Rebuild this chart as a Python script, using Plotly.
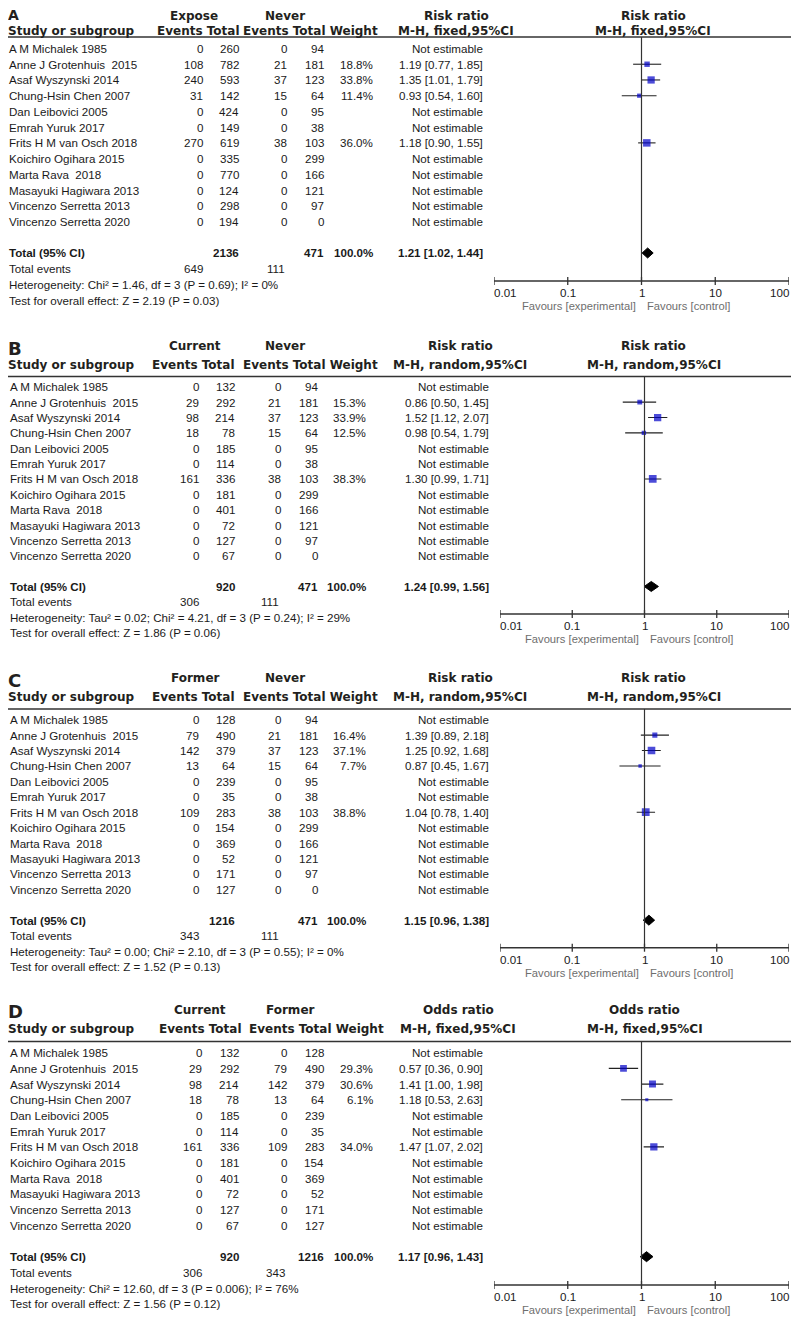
import math
import plotly.graph_objects as go

# ---------------- DATA ----------------
STUDIES = ["A M Michalek 1985", "Anne J Grotenhuis\u00a0 2015", "Asaf Wyszynski 2014",
           "Chung-Hsin Chen 2007", "Dan Leibovici 2005", "Emrah Yuruk 2017",
           "Frits H M van Osch 2018", "Koichiro Ogihara 2015", "Marta Rava\u00a0 2018",
           "Masayuki Hagiwara 2013", "Vincenzo Serretta 2013", "Vincenzo Serretta 2020"]
TICKS = [0.01, 0.1, 1, 10, 100]
TICK_LABELS = ["0.01", "0.1", "1", "10", "100"]
FAVOURS = ["Favours [experimental]", "Favours [control]"]

# Panel A
A_GROUPS = ["Expose", "Never"]
A_MEASURE = ["Risk ratio", "M-H, fixed,95%CI"]
A_EXP_EVENTS = [0, 108, 240, 31, 0, 0, 270, 0, 0, 0, 0, 0]
A_EXP_TOTAL = [260, 782, 593, 142, 424, 149, 619, 335, 770, 124, 298, 194]
A_CTL_EVENTS = [0, 21, 37, 15, 0, 0, 38, 0, 0, 0, 0, 0]
A_CTL_TOTAL = [94, 181, 123, 64, 95, 38, 103, 299, 166, 121, 97, 0]
A_WEIGHT = [None, 18.8, 33.8, 11.4, None, None, 36.0, None, None, None, None, None]
A_EST = [None, 1.19, 1.35, 0.93, None, None, 1.18, None, None, None, None, None]
A_LO = [None, 0.77, 1.01, 0.54, None, None, 0.90, None, None, None, None, None]
A_HI = [None, 1.85, 1.79, 1.60, None, None, 1.55, None, None, None, None, None]
A_TOTALS = [2136, 471]
A_TOTAL_EVENTS = [649, 111]
A_POOLED = [1.21, 1.02, 1.44]
A_HET = "Heterogeneity: Chi² = 1.46, df = 3 (P = 0.69); I² = 0%"
A_TEST = "Test for overall effect: Z = 2.19 (P = 0.03)"

# Panel B
B_GROUPS = ["Current", "Never"]
B_MEASURE = ["Risk ratio", "M-H, random,95%CI"]
B_EXP_EVENTS = [0, 29, 98, 18, 0, 0, 161, 0, 0, 0, 0, 0]
B_EXP_TOTAL = [132, 292, 214, 78, 185, 114, 336, 181, 401, 72, 127, 67]
B_CTL_EVENTS = [0, 21, 37, 15, 0, 0, 38, 0, 0, 0, 0, 0]
B_CTL_TOTAL = [94, 181, 123, 64, 95, 38, 103, 299, 166, 121, 97, 0]
B_WEIGHT = [None, 15.3, 33.9, 12.5, None, None, 38.3, None, None, None, None, None]
B_EST = [None, 0.86, 1.52, 0.98, None, None, 1.30, None, None, None, None, None]
B_LO = [None, 0.50, 1.12, 0.54, None, None, 0.99, None, None, None, None, None]
B_HI = [None, 1.45, 2.07, 1.79, None, None, 1.71, None, None, None, None, None]
B_TOTALS = [920, 471]
B_TOTAL_EVENTS = [306, 111]
B_POOLED = [1.24, 0.99, 1.56]
B_HET = "Heterogeneity: Tau² = 0.02; Chi² = 4.21, df = 3 (P = 0.24); I² = 29%"
B_TEST = "Test for overall effect: Z = 1.86 (P = 0.06)"

# Panel C
C_GROUPS = ["Former", "Never"]
C_MEASURE = ["Risk ratio", "M-H, random,95%CI"]
C_EXP_EVENTS = [0, 79, 142, 13, 0, 0, 109, 0, 0, 0, 0, 0]
C_EXP_TOTAL = [128, 490, 379, 64, 239, 35, 283, 154, 369, 52, 171, 127]
C_CTL_EVENTS = [0, 21, 37, 15, 0, 0, 38, 0, 0, 0, 0, 0]
C_CTL_TOTAL = [94, 181, 123, 64, 95, 38, 103, 299, 166, 121, 97, 0]
C_WEIGHT = [None, 16.4, 37.1, 7.7, None, None, 38.8, None, None, None, None, None]
C_EST = [None, 1.39, 1.25, 0.87, None, None, 1.04, None, None, None, None, None]
C_LO = [None, 0.89, 0.92, 0.45, None, None, 0.78, None, None, None, None, None]
C_HI = [None, 2.18, 1.68, 1.67, None, None, 1.40, None, None, None, None, None]
C_TOTALS = [1216, 471]
C_TOTAL_EVENTS = [343, 111]
C_POOLED = [1.15, 0.96, 1.38]
C_HET = "Heterogeneity: Tau² = 0.00; Chi² = 2.10, df = 3 (P = 0.55); I² = 0%"
C_TEST = "Test for overall effect: Z = 1.52 (P = 0.13)"

# Panel D
D_GROUPS = ["Current", "Former"]
D_MEASURE = ["Odds ratio", "M-H, fixed,95%CI"]
D_EXP_EVENTS = [0, 29, 98, 18, 0, 0, 161, 0, 0, 0, 0, 0]
D_EXP_TOTAL = [132, 292, 214, 78, 185, 114, 336, 181, 401, 72, 127, 67]
D_CTL_EVENTS = [0, 79, 142, 13, 0, 0, 109, 0, 0, 0, 0, 0]
D_CTL_TOTAL = [128, 490, 379, 64, 239, 35, 283, 154, 369, 52, 171, 127]
D_WEIGHT = [None, 29.3, 30.6, 6.1, None, None, 34.0, None, None, None, None, None]
D_EST = [None, 0.57, 1.41, 1.18, None, None, 1.47, None, None, None, None, None]
D_LO = [None, 0.36, 1.00, 0.53, None, None, 1.07, None, None, None, None, None]
D_HI = [None, 0.90, 1.98, 2.63, None, None, 2.02, None, None, None, None, None]
D_TOTALS = [920, 1216]
D_TOTAL_EVENTS = [306, 343]
D_POOLED = [1.17, 0.96, 1.43]
D_HET = "Heterogeneity: Chi² = 12.60, df = 3 (P = 0.006); I² = 76%"
D_TEST = "Test for overall effect: Z = 1.56 (P = 0.12)"


def panel_data(letter, groups, measure, ee, et, ce, ct, w, est, lo, hi, totals, tev, pooled, het, test):
    return dict(letter=letter, groups=groups, measure=measure, ee=ee, et=et, ce=ce, ct=ct,
                w=w, est=est, lo=lo, hi=hi, totals=totals, tev=tev, pooled=pooled, het=het, test=test)


DATA = [
    panel_data("A", A_GROUPS, A_MEASURE, A_EXP_EVENTS, A_EXP_TOTAL, A_CTL_EVENTS, A_CTL_TOTAL,
               A_WEIGHT, A_EST, A_LO, A_HI, A_TOTALS, A_TOTAL_EVENTS, A_POOLED, A_HET, A_TEST),
    panel_data("B", B_GROUPS, B_MEASURE, B_EXP_EVENTS, B_EXP_TOTAL, B_CTL_EVENTS, B_CTL_TOTAL,
               B_WEIGHT, B_EST, B_LO, B_HI, B_TOTALS, B_TOTAL_EVENTS, B_POOLED, B_HET, B_TEST),
    panel_data("C", C_GROUPS, C_MEASURE, C_EXP_EVENTS, C_EXP_TOTAL, C_CTL_EVENTS, C_CTL_TOTAL,
               C_WEIGHT, C_EST, C_LO, C_HI, C_TOTALS, C_TOTAL_EVENTS, C_POOLED, C_HET, C_TEST),
    panel_data("D", D_GROUPS, D_MEASURE, D_EXP_EVENTS, D_EXP_TOTAL, D_CTL_EVENTS, D_CTL_TOTAL,
               D_WEIGHT, D_EST, D_LO, D_HI, D_TOTALS, D_TOTAL_EVENTS, D_POOLED, D_HET, D_TEST),
]

# ---------------- LAYOUT (page pixel positions) ----------------
PAGE_W, PAGE_H = 799, 1324
OFF = 8                      # default body margin of the html page
W, H = PAGE_W - OFF, PAGE_H - OFF
LAYOUTS = [
    dict(rule=37, row0=48.5, step=15.73, axis=281, x0=494, x1=789,
         letter_y=15.4, letter_size=14, grp_y=16, sub_y=30.7,
         c_name=9, c_ee=203, c_et=239.5, c_ce=287, c_ct=324, c_w=372.5, c_rr=483,
         h_study=1, h_exp=240, h_ctl=378, h_g1=194, h_g2=284.5, h_rr=456, h_forest=653),
    dict(rule=376.5, row0=386.8, step=15.36, axis=614, x0=500, x1=789,
         letter_y=348.3, letter_size=18, grp_y=345.7, sub_y=365,
         c_name=10, c_ee=198.7, c_et=235, c_ce=281, c_ct=317.7, c_w=365.7, c_rr=489,
         h_study=1, h_exp=235, h_ctl=378, h_g1=194.5, h_g2=285, h_rr=460, h_forest=653.5),
    dict(rule=709, row0=719.7, step=15.42, axis=947.7, x0=500, x1=789,
         letter_y=680, letter_size=18, grp_y=677.7, sub_y=697.3,
         c_name=10, c_ee=198.7, c_et=235, c_ce=281, c_ct=317.7, c_w=365.7, c_rr=489,
         h_study=1, h_exp=235, h_ctl=378, h_g1=195, h_g2=285, h_rr=460, h_forest=653.5),
    dict(rule=1041.5, row0=1052.7, step=15.69, axis=1285, x0=494, x1=789,
         letter_y=1011.7, letter_size=18, grp_y=1010, sub_y=1029,
         c_name=10, c_ee=202.3, c_et=239.3, c_ce=286.7, c_ct=324, c_w=372.7, c_rr=483,
         h_study=5.7, h_exp=242, h_ctl=384, h_g1=200, h_g2=290, h_rr=458.5, h_forest=644.7),
]

BODY = dict(family="Liberation Sans, Arial, sans-serif", size=11.6, color="#1a1a1a")
HEAD = dict(family="DejaVu Sans, Verdana, sans-serif", size=12, color="#231f20")
FAV = dict(family="Liberation Sans, Arial, sans-serif", size=11.2, color="#6e6e6e")
LINE_COL = "#333333"
SQUARE_COL = "#0000c8"
TOTAL_ROW = 13


def X(px):
    return max(px - OFF, 0) / W


def Y(py):
    return 1 - (py - OFF) / H


fig = go.Figure()
annotations = []
shapes = []
layout_axes = {}


def ann(text, x, y, xref="paper", yref="paper", anchor="left", font=BODY, yanchor="middle", **kw):
    a = dict(text=text, x=x, y=y, xref=xref, yref=yref, xanchor=anchor, yanchor=yanchor,
             showarrow=False, font=font, borderpad=0, borderwidth=0)
    a.update(kw)
    annotations.append(a)


for n, (d, L) in enumerate(zip(DATA, LAYOUTS), start=1):
    sfx = "" if n == 1 else str(n)
    xa, ya = "x" + sfx, "y" + sfx
    top = -(L["row0"] - L["rule"]) / L["step"]
    bottom = (L["axis"] - L["row0"]) / L["step"]
    layout_axes["xaxis" + sfx] = dict(domain=[X(L["x0"]), X(L["x1"])], type="log", range=[-2, 2],
                                      anchor=ya, showgrid=False, zeroline=False, showline=False,
                                      showticklabels=False, ticks="", fixedrange=True)
    layout_axes["yaxis" + sfx] = dict(domain=[Y(L["axis"]), Y(L["rule"])], range=[bottom, top],
                                      anchor=xa, showgrid=False, zeroline=False, showline=False,
                                      showticklabels=False, ticks="", fixedrange=True)

    def RY(i):
        return Y(L["row0"] + i * L["step"])

    # --- headers ---
    letter_font = dict(family="DejaVu Sans, Verdana, sans-serif", size=L["letter_size"], color="#231f20")
    ann("<b>%s</b>" % d["letter"], X(0), Y(L["letter_y"]), font=letter_font)
    ann("<b>%s</b>" % d["groups"][0], X(L["h_g1"]), Y(L["grp_y"]), anchor="center", font=HEAD)
    ann("<b>%s</b>" % d["groups"][1], X(L["h_g2"]), Y(L["grp_y"]), anchor="center", font=HEAD)
    ann("<b>%s</b>" % d["measure"][0], X(L["h_rr"]), Y(L["grp_y"]), anchor="center", font=HEAD)
    ann("<b>%s</b>" % d["measure"][0], X(L["h_forest"]), Y(L["grp_y"]), anchor="center", font=HEAD)
    ann("<b>Study or subgroup</b>", X(L["h_study"]), Y(L["sub_y"]), font=HEAD)
    ann("<b>Events Total</b>", X(L["h_exp"]), Y(L["sub_y"]), anchor="right", font=HEAD)
    ann("<b>Events Total Weight</b>", X(L["h_ctl"]), Y(L["sub_y"]), anchor="right", font=HEAD)
    ann("<b>%s</b>" % d["measure"][1], X(L["h_rr"]), Y(L["sub_y"]), anchor="center", font=HEAD)
    ann("<b>%s</b>" % d["measure"][1], X(L["h_forest"]), Y(L["sub_y"]), anchor="center", font=HEAD)

    # rule under header (full width)
    shapes.append(dict(type="line", xref="paper", x0=0, x1=1, yref=ya + " domain", y0=1, y1=1,
                       line=dict(color=LINE_COL, width=1.6)))
    # line of no effect
    shapes.append(dict(type="line", xref=xa, x0=1, x1=1, yref=ya + " domain", y0=0, y1=1,
                       line=dict(color=LINE_COL, width=1.2)))
    # axis line
    shapes.append(dict(type="line", xref=xa, x0=TICKS[0], x1=TICKS[-1], yref=ya + " domain", y0=0, y1=0,
                       line=dict(color=LINE_COL, width=1.5)))
    for i, (t, lab) in enumerate(zip(TICKS, TICK_LABELS)):
        shapes.append(dict(type="line", xref=xa, x0=t, x1=t, yref=ya + " domain", ysizemode="pixel",
                           yanchor=0, y0=-4, y1=4, line=dict(color=LINE_COL, width=1.3)))
        anchor = "left" if i == 0 else ("right" if i == len(TICKS) - 1 else "center")
        ann(lab, math.log10(t), 0, xref=xa, yref=ya + " domain", anchor=anchor, yanchor="top",
            yshift=-5, font=BODY)
    ann(FAVOURS[0], 0, 0, xref=xa, yref=ya + " domain", anchor="right", yanchor="top",
        xshift=-6, yshift=-19, font=FAV)
    ann(FAVOURS[1], 0, 0, xref=xa, yref=ya + " domain", anchor="left", yanchor="top",
        xshift=5, yshift=-19, font=FAV)

    # --- study rows ---
    for i, name in enumerate(STUDIES):
        ann(name, X(L["c_name"]), RY(i))
        ann(str(d["ee"][i]), X(L["c_ee"]), RY(i), anchor="right")
        ann(str(d["et"][i]), X(L["c_et"]), RY(i), anchor="right")
        ann(str(d["ce"][i]), X(L["c_ce"]), RY(i), anchor="right")
        ann(str(d["ct"][i]), X(L["c_ct"]), RY(i), anchor="right")
        if d["w"][i] is not None:
            ann("%.1f%%" % d["w"][i], X(L["c_w"]), RY(i), anchor="right")
        if d["est"][i] is None:
            ann("Not estimable", X(L["c_rr"]), RY(i), anchor="right")
        else:
            ann("%.2f [%.2f, %.2f]" % (d["est"][i], d["lo"][i], d["hi"][i]), X(L["c_rr"]), RY(i),
                anchor="right")

    # --- totals ---
    r = TOTAL_ROW
    ann("<b>Total (95% CI)</b>", X(L["c_name"]), RY(r))
    ann("<b>%d</b>" % d["totals"][0], X(L["c_et"]), RY(r), anchor="right")
    ann("<b>%d</b>" % d["totals"][1], X(L["c_ct"]), RY(r), anchor="right")
    ann("<b>100.0%</b>", X(L["c_w"]), RY(r), anchor="right")
    ann("<b>%.2f [%.2f, %.2f]</b>" % tuple(d["pooled"]), X(L["c_rr"]), RY(r), anchor="right")
    ann("Total events", X(L["c_name"]), RY(r + 1))
    ann(str(d["tev"][0]), X(L["c_ee"]), RY(r + 1), anchor="right")
    ann(str(d["tev"][1]), X(L["c_ce"] - 2), RY(r + 1), anchor="right")
    ann(d["het"], X(L["c_name"]), RY(r + 2))
    ann(d["test"], X(L["c_name"]), RY(r + 3))

    # --- forest marks ---
    idx = [i for i in range(len(STUDIES)) if d["est"][i] is not None]
    cx, cy = [], []
    for i in idx:
        cx += [d["lo"][i], d["hi"][i], None]
        cy += [i, i, None]
    fig.add_trace(go.Scatter(x=cx, y=cy, mode="lines", line=dict(color="#222222", width=1.1),
                             xaxis=xa, yaxis=ya, hoverinfo="skip", showlegend=False))
    fig.add_trace(go.Scatter(x=[d["est"][i] for i in idx], y=idx, mode="markers",
                             marker=dict(symbol="square", color=SQUARE_COL,
                                         size=[1.25 * math.sqrt(d["w"][i]) for i in idx],
                                         line=dict(width=0)),
                             xaxis=xa, yaxis=ya, hoverinfo="skip", showlegend=False))
    est, lo, hi = d["pooled"]
    h = 5.0 / L["step"]
    fig.add_trace(go.Scatter(x=[lo, est, hi, est, lo],
                             y=[TOTAL_ROW, TOTAL_ROW - h, TOTAL_ROW, TOTAL_ROW + h, TOTAL_ROW],
                             mode="lines", fill="toself", fillcolor="#000000",
                             line=dict(color="#000000", width=1),
                             xaxis=xa, yaxis=ya, hoverinfo="skip", showlegend=False))

fig.update_layout(
    width=W, height=H, margin=dict(l=0, r=0, t=0, b=0),
    paper_bgcolor="white", plot_bgcolor="white",
    showlegend=False, hovermode=False,
    annotations=annotations, shapes=shapes,
    **layout_axes,
)

fig.write_html("out.html")
